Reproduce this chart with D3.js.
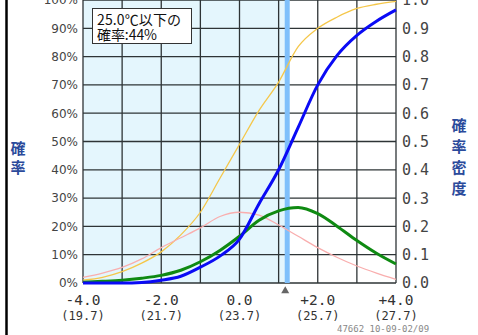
<!DOCTYPE html>
<html>
<head>
<meta charset="utf-8">
<script src="https://cdn.jsdelivr.net/npm/d3@7"></script>
<style>
  body { margin: 0; background: #fff; }
  svg { display: block; }
</style>
</head>
<body>
<svg id="chart" width="478" height="335"></svg>
<script>
// anomaly grid (deg C from normal) and the temperature it maps to
const xs = [-4, -3.5, -3, -2.5, -2, -1.5, -1, -0.5, 0, 0.5, 1, 1.5, 2, 2.5, 3, 3.5, 4];
const xTicks = [-4, -2, 0, 2, 4];
const xTickLabels = ['-4.0', '-2.0', '0.0', '+2.0', '+4.0'];
const tempLabels = ['(19.7)', '(21.7)', '(23.7)', '(25.7)', '(27.7)'];

// climatology: cumulative (yellow) and density (pink)
const climCdf = [0.01, 0.02, 0.04, 0.07, 0.11, 0.17, 0.25, 0.37, 0.49, 0.61, 0.71, 0.835, 0.9, 0.94, 0.97, 0.985, 0.995];
const climPdf = [0.02, 0.035, 0.055, 0.085, 0.125, 0.16, 0.195, 0.235, 0.25, 0.24, 0.205, 0.165, 0.125, 0.09, 0.06, 0.035, 0.013];
// forecast: density (green) and cumulative (blue)
const fcstPdf = [0.003, 0.006, 0.01, 0.017, 0.027, 0.045, 0.075, 0.115, 0.165, 0.222, 0.255, 0.267, 0.245, 0.2, 0.15, 0.105, 0.067];
const fcstCdf = [0, 0, 0, 0.002, 0.01, 0.024, 0.056, 0.095, 0.155, 0.28, 0.4, 0.55, 0.7, 0.805, 0.875, 0.925, 0.965];

const threshold = 1.22;   // 25.0 deg C
const boxLines = ['25.0\u2103以下の', '確率:44%'];
const leftTicks = d3.range(0, 11).map(d => d / 10);

const svg = d3.select('#chart');
const x = d3.scaleLinear().domain([-4, 4]).range([83, 396]);
const y = d3.scaleLinear().domain([0, 1]).range([283, 0]);

// page border on the left
svg.append('line')
    .attr('x1', 6.5).attr('x2', 6.5).attr('y1', 0).attr('y2', 335)
    .attr('stroke', '#000').attr('stroke-width', 2.5);

// shaded part below the threshold
svg.append('rect')
    .attr('x', x(-4)).attr('y', y(1))
    .attr('width', x(threshold) - x(-4)).attr('height', y(0) - y(1))
    .attr('fill', '#e4f6fd');

// grid
const grid = svg.append('g').attr('stroke', '#2e3436').attr('stroke-width', 1.3);
grid.selectAll('line.v')
    .data(d3.range(-4, 5))
    .join('line')
    .attr('x1', d => x(d)).attr('x2', d => x(d))
    .attr('y1', y(0)).attr('y2', y(1));
grid.selectAll('line.h')
    .data(leftTicks)
    .join('line')
    .attr('x1', x(-4)).attr('x2', x(4))
    .attr('y1', d => y(d)).attr('y2', d => y(d));

// threshold line
svg.append('line')
    .attr('x1', x(threshold)).attr('x2', x(threshold))
    .attr('y1', y(0)).attr('y2', y(1))
    .attr('stroke', '#7fc0fb').attr('stroke-width', 5);

const line = arr => d3.line()
    .x((d, i) => x(xs[i]))
    .y(d => y(d))
    .curve(d3.curveMonotoneX)(arr);

const series = [
    {vals: climCdf, color: '#f5c74a', w: 1.3},
    {vals: climPdf, color: '#f9aeae', w: 1.3},
    {vals: fcstPdf, color: '#0f8a12', w: 3},
    {vals: fcstCdf, color: '#0a0af5', w: 3}
];
svg.selectAll('path.curve')
    .data(series)
    .join('path')
    .attr('class', 'curve')
    .attr('d', d => line(d.vals))
    .attr('fill', 'none')
    .attr('stroke', d => d.color)
    .attr('stroke-width', d => d.w)
    .attr('stroke-linejoin', 'round');

// left axis labels
svg.append('g')
    .selectAll('text')
    .data(leftTicks)
    .join('text')
    .attr('x', 78).attr('y', d => y(d))
    .attr('dy', '0.36em')
    .attr('text-anchor', 'end')
    .attr('font-family', 'DejaVu Sans')
    .attr('font-size', 12)
    .attr('fill', '#444')
    .text(d => Math.round(d * 100) + '%');

// right axis labels
svg.append('g')
    .selectAll('text')
    .data(leftTicks)
    .join('text')
    .attr('x', 402).attr('y', d => y(d))
    .attr('dy', '0.36em')
    .attr('font-family', 'DejaVu Sans Mono')
    .attr('font-size', 15)
    .attr('fill', '#444')
    .text(d => d.toFixed(1));

// bottom labels
const bottom = svg.append('g')
    .attr('font-family', 'DejaVu Sans Mono')
    .attr('fill', '#333')
    .attr('text-anchor', 'middle');
bottom.selectAll('text.anom')
    .data(xTicks)
    .join('text')
    .attr('class', 'anom')
    .attr('x', d => x(d)).attr('y', 305)
    .attr('font-size', 14.5)
    .text((d, i) => xTickLabels[i]);
bottom.selectAll('text.temp')
    .data(xTicks)
    .join('text')
    .attr('class', 'temp')
    .attr('x', d => x(d)).attr('y', 320)
    .attr('font-size', 12)
    .text((d, i) => tempLabels[i]);

// triangle marker under the threshold
svg.append('path')
    .attr('d', d3.symbol().type(d3.symbolTriangle).size(28))
    .attr('transform', `translate(${x(threshold) - 2},${291})`)
    .attr('fill', '#666');

// footnote
svg.append('text')
    .attr('x', 337).attr('y', 332)
    .attr('font-family', 'DejaVu Sans Mono')
    .attr('font-size', 9)
    .attr('fill', '#888')
    .text('47662 10-09-02/09');

// axis titles, written top to bottom
const vtitle = (chars, cx, y0, step) => {
    svg.append('g').selectAll('text')
        .data(chars.split(''))
        .join('text')
        .attr('x', cx).attr('y', (d, i) => y0 + i * step)
        .attr('text-anchor', 'middle')
        .attr('font-family', 'Noto Sans CJK JP')
        .attr('font-weight', 'bold')
        .attr('font-size', 15)
        .attr('fill', '#2b4a9b')
        .text(d => d);
};
vtitle('確率', 18, 154, 19);
vtitle('確率密度', 459, 131, 21);

// annotation box
svg.append('rect')
    .attr('x', 92.5).attr('y', 8.5).attr('width', 99).attr('height', 35)
    .attr('fill', '#fff').attr('stroke', '#333').attr('stroke-width', 1);
const boxWidths = [84, 60];
svg.append('g').selectAll('text')
    .data(boxLines)
    .join('text')
    .attr('x', 97).attr('y', (d, i) => 25 + i * 15)
    .attr('font-family', 'Noto Sans CJK JP')
    .attr('font-size', 14)
    .attr('textLength', (d, i) => boxWidths[i])
    .attr('lengthAdjust', 'spacing')
    .attr('fill', '#111')
    .text(d => d);
</script>
</body>
</html>
